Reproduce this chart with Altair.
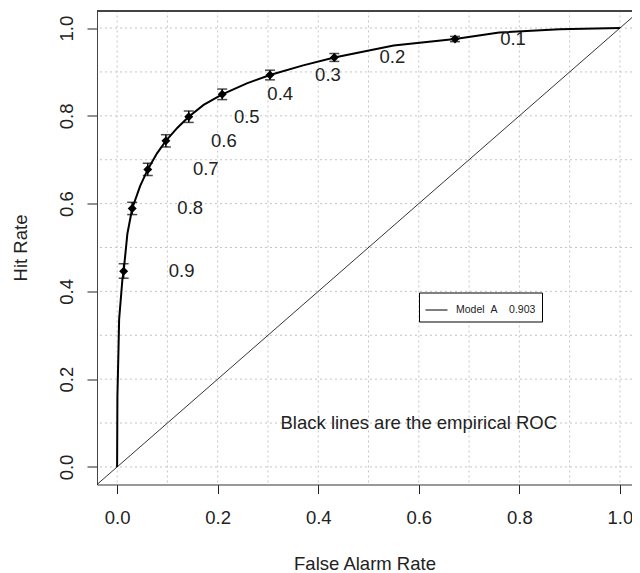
import altair as alt
import pandas as pd

# Empirical ROC curve (false alarm rate, hit rate)
FAR = [0, 0.0006, 0.0026, 0.004, 0.0105, 0.013, 0.0205, 0.030, 0.0457, 0.061, 0.079,
       0.097, 0.12, 0.1425, 0.172, 0.209, 0.258, 0.304, 0.370, 0.432, 0.55, 0.672,
       0.76, 0.88, 1.0]
HR = [0, 0.16, 0.26, 0.336, 0.427, 0.446, 0.532, 0.589, 0.640, 0.678, 0.714,
      0.743, 0.773, 0.798, 0.825, 0.849, 0.874, 0.893, 0.915, 0.933, 0.960, 0.975,
      0.99, 0.997, 1.0]

# Threshold points with labels and CI caps
THRESH = ["0.9", "0.8", "0.7", "0.6", "0.5", "0.4", "0.3", "0.2", "0.1"]
TH_FAR = [0.013, 0.030, 0.061, 0.097, 0.1425, 0.209, 0.304, 0.432, 0.672]
TH_HR = [0.446, 0.589, 0.678, 0.743, 0.798, 0.849, 0.893, 0.933, 0.975]
TH_HI = [0.463, 0.603, 0.692, 0.757, 0.811, 0.861, 0.904, 0.942, 0.981]
TH_LO = [0.430, 0.575, 0.664, 0.729, 0.785, 0.837, 0.882, 0.924, 0.969]

GRID = [0.0, 0.1, 0.2, 0.3, 0.4, 0.5, 0.6, 0.7, 0.8, 0.9, 1.0]
TICKS = [0.0, 0.2, 0.4, 0.6, 0.8, 1.0]
DIAG = [-0.04, 1.04]

MODEL_LABEL = "Model\u00a0\u00a0A\u00a0\u00a0\u00a0\u00a00.903"
NOTE = "Black lines are the empirical ROC"
NOTE_X = [0.6]
NOTE_Y = [0.1]

FONT = "Liberation Sans"
FS = 18.5

roc = pd.DataFrame({"far": FAR, "hr": HR, "i": list(range(len(FAR))),
                    "model": [MODEL_LABEL] * len(FAR)})
pts = pd.DataFrame({"far": TH_FAR, "hr": TH_HR, "lo": TH_LO, "hi": TH_HI, "lab": THRESH})
grid = pd.DataFrame({"g": GRID})
diag = pd.DataFrame({"d": DIAG})
note = pd.DataFrame({"x": NOTE_X, "y": NOTE_Y, "t": [NOTE]})

xscale = alt.Scale(domain=[-0.04, 1.024], nice=False, zero=False)
yscale = alt.Scale(domain=[-0.04, 1.04], nice=False, zero=False)

xax = alt.Axis(values=TICKS, format=".1f", title="False Alarm Rate", grid=False,
               tickSize=9, labelPadding=15, domainColor="#444", tickColor="#222",
               labelFontSize=FS, labelFont=FONT, labelColor="#222", labelFlush=False,
               titleFontSize=FS, titleFont=FONT, titleFontWeight="normal", titleColor="#222",
               titleY=79, titleBaseline="middle")
yax = alt.Axis(values=TICKS, format=".1f", title="Hit Rate", grid=False,
               tickSize=10, labelPadding=15, domainColor="#444", tickColor="#222",
               labelFontSize=FS, labelFont=FONT, labelColor="#222", labelFlush=False,
               labelAngle=270, labelAlign="center", labelBaseline="alphabetic",
               titleFontSize=FS, titleFont=FONT, titleFontWeight="normal", titleColor="#222",
               titleAngle=270, titleX=-77, titleY=237, titleAlign="center",
               titleBaseline="middle")

vgrid = alt.Chart(grid).mark_rule(color="#c4c4c4", strokeDash=[2, 3], strokeWidth=1).encode(
    x=alt.X("g:Q", scale=xscale, axis=xax))
hgrid = alt.Chart(grid).mark_rule(color="#c4c4c4", strokeDash=[2, 3], strokeWidth=1).encode(
    y=alt.Y("g:Q", scale=yscale, axis=yax))
topborder = alt.Chart(grid).mark_rule(color="#444", strokeWidth=1).encode(y=alt.value(0.5))

diagline = alt.Chart(diag).mark_line(color="black", strokeWidth=0.8, clip=True).encode(
    x=alt.X("d:Q", scale=xscale, axis=xax),
    y=alt.Y("d:Q", scale=yscale, axis=yax))

rocline = alt.Chart(roc).mark_line(strokeWidth=2).encode(
    x=alt.X("far:Q", scale=xscale, axis=xax),
    y=alt.Y("hr:Q", scale=yscale, axis=yax),
    order=alt.Order("i:Q"),
    color=alt.Color("model:N",
                    scale=alt.Scale(domain=[MODEL_LABEL], range=["black"]),
                    legend=alt.Legend(title=None, orient="none", legendX=322, legendY=282,
                                      strokeColor="black", fillColor="white", padding=6,
                                      symbolType="stroke", symbolSize=484,
                                      symbolStrokeWidth=1, labelFontSize=10.5,
                                      labelFont=FONT, labelColor="#222", labelOffset=8)))

bars = alt.Chart(pts).mark_rule(color="black", strokeWidth=1.5).encode(
    x=alt.X("far:Q", scale=xscale, axis=xax),
    y=alt.Y("lo:Q", scale=yscale, axis=yax),
    y2="hi:Q")
caps_hi = alt.Chart(pts).mark_tick(color="black", orient="horizontal", size=10, thickness=1.5).encode(
    x=alt.X("far:Q", scale=xscale, axis=xax),
    y=alt.Y("hi:Q", scale=yscale, axis=yax))
caps_lo = alt.Chart(pts).mark_tick(color="black", orient="horizontal", size=10, thickness=1.5).encode(
    x=alt.X("far:Q", scale=xscale, axis=xax),
    y=alt.Y("lo:Q", scale=yscale, axis=yax))
diamonds = alt.Chart(pts).mark_point(shape="diamond", filled=True, size=80, color="black",
                                     opacity=1).encode(
    x=alt.X("far:Q", scale=xscale, axis=xax),
    y=alt.Y("hr:Q", scale=yscale, axis=yax))
labels = alt.Chart(pts).mark_text(dx=58, fontSize=FS, font=FONT, color="#222",
                                  align="center", baseline="middle").encode(
    x=alt.X("far:Q", scale=xscale, axis=xax),
    y=alt.Y("hr:Q", scale=yscale, axis=yax),
    text="lab:N")
notetext = alt.Chart(note).mark_text(fontSize=FS, font=FONT, color="#222",
                                     align="center", baseline="middle").encode(
    x=alt.X("x:Q", scale=xscale, axis=xax),
    y=alt.Y("y:Q", scale=yscale, axis=yax),
    text="t:N")

chart = alt.layer(vgrid, hgrid, topborder, diagline, rocline, bars, caps_hi, caps_lo,
                  diamonds, labels, notetext).properties(
    width=535, height=474,
    padding={"left": 89, "top": 2.5, "right": 0, "bottom": 88},
    autosize=alt.AutoSizeParams(type="none"),
).configure_view(stroke=None).configure(background="white")

chart.save("out.html", embed_options={"renderer": "svg", "actions": False})
